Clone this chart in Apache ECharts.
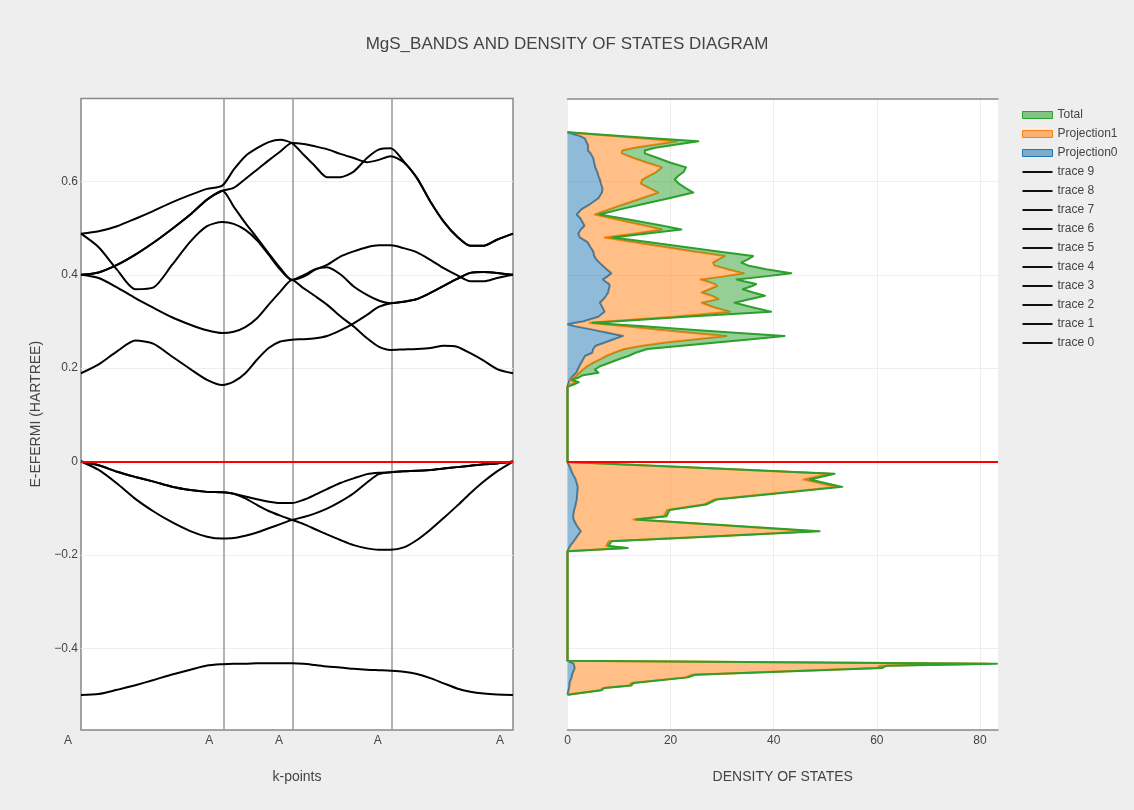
<!DOCTYPE html>
<html><head><meta charset="utf-8">
<script src="https://cdn.jsdelivr.net/npm/echarts@6/dist/echarts.min.js"></script>
<style>html,body{margin:0;padding:0;background:#eeeeee}#c{width:1134px;height:810px}</style>
</head><body><div id="c"></div>
<script>
// ---------- data ----------
const kPoints = [0, 0.0409, 0.0833, 0.1258, 0.1682, 0.2106, 0.2531, 0.2917, 0.3272, 0.3534, 0.3804, 0.4074, 0.4344, 0.4614, 0.4884, 0.5154, 0.5424, 0.5694, 0.6003, 0.6312, 0.662, 0.689, 0.7168, 0.7469, 0.7778, 0.8086, 0.8395, 0.8704, 0.9012, 0.9321, 0.963, 1];
const kTickValues = [0, 0.3272, 0.4884, 0.7168, 1];
const kTickLabels = ['A', 'A', 'A', 'A', 'A'];
const kLines = [0.3272, 0.4884, 0.7168];
const energyTicks = [-0.4, -0.2, 0, 0.2, 0.4, 0.6];
const energyGrid = [-0.4, -0.2, 0.2, 0.4, 0.6];
const fermiLevel = 0;

const band0 = [-0.5, -0.498, -0.489, -0.479, -0.468, -0.456, -0.446, -0.437, -0.434, -0.433, -0.433, -0.432, -0.432, -0.432, -0.432, -0.433, -0.436, -0.439, -0.441, -0.444, -0.446, -0.447, -0.448, -0.45, -0.455, -0.464, -0.475, -0.486, -0.493, -0.497, -0.499, -0.5];
const band1 = [0, -0.018, -0.047, -0.08, -0.107, -0.13, -0.149, -0.161, -0.165, -0.164, -0.159, -0.152, -0.143, -0.134, -0.125, -0.119, -0.111, -0.101, -0.086, -0.068, -0.045, -0.027, -0.023, -0.021, -0.02, -0.018, -0.015, -0.012, -0.009, -0.006, -0.004, 0];
const band2 = [0, -0.008, -0.022, -0.033, -0.043, -0.054, -0.061, -0.065, -0.066, -0.069, -0.079, -0.093, -0.106, -0.116, -0.125, -0.134, -0.145, -0.156, -0.168, -0.179, -0.186, -0.189, -0.189, -0.184, -0.168, -0.146, -0.121, -0.095, -0.068, -0.043, -0.021, 0];
const band3 = [0, -0.008, -0.022, -0.033, -0.043, -0.054, -0.061, -0.065, -0.066, -0.069, -0.075, -0.081, -0.086, -0.089, -0.089, -0.082, -0.071, -0.059, -0.046, -0.036, -0.027, -0.024, -0.023, -0.021, -0.02, -0.018, -0.015, -0.012, -0.009, -0.006, -0.004, 0];
const band4 = [0.189, 0.208, 0.236, 0.259, 0.252, 0.225, 0.198, 0.175, 0.164, 0.171, 0.189, 0.218, 0.243, 0.257, 0.261, 0.262, 0.264, 0.269, 0.281, 0.296, 0.314, 0.331, 0.339, 0.342, 0.348, 0.361, 0.376, 0.391, 0.404, 0.406, 0.404, 0.4];
const band5 = [0.4, 0.393, 0.373, 0.35, 0.329, 0.309, 0.293, 0.281, 0.275, 0.278, 0.288, 0.307, 0.336, 0.364, 0.389, 0.371, 0.354, 0.336, 0.311, 0.289, 0.264, 0.246, 0.239, 0.24, 0.241, 0.243, 0.248, 0.246, 0.232, 0.216, 0.198, 0.189];
const band6 = [0.488, 0.459, 0.411, 0.369, 0.373, 0.421, 0.471, 0.504, 0.513, 0.509, 0.496, 0.474, 0.443, 0.411, 0.389, 0.399, 0.412, 0.416, 0.401, 0.375, 0.357, 0.345, 0.339, 0.342, 0.348, 0.361, 0.376, 0.391, 0.404, 0.406, 0.404, 0.4];
const band7 = [0.4, 0.405, 0.421, 0.443, 0.469, 0.498, 0.529, 0.561, 0.58, 0.546, 0.511, 0.479, 0.446, 0.414, 0.389, 0.396, 0.411, 0.421, 0.439, 0.45, 0.459, 0.463, 0.463, 0.457, 0.448, 0.432, 0.414, 0.399, 0.386, 0.386, 0.393, 0.4];
const band8 = [0.4, 0.405, 0.421, 0.443, 0.469, 0.498, 0.529, 0.561, 0.58, 0.586, 0.605, 0.625, 0.645, 0.664, 0.682, 0.68, 0.675, 0.669, 0.659, 0.65, 0.641, 0.646, 0.654, 0.641, 0.607, 0.557, 0.514, 0.482, 0.462, 0.462, 0.475, 0.488];
const band9 = [0.488, 0.493, 0.504, 0.52, 0.537, 0.555, 0.571, 0.584, 0.591, 0.625, 0.654, 0.671, 0.684, 0.689, 0.682, 0.657, 0.632, 0.609, 0.609, 0.621, 0.65, 0.668, 0.671, 0.643, 0.607, 0.557, 0.514, 0.482, 0.462, 0.462, 0.475, 0.488];
const bands = [band0, band1, band2, band3, band4, band5, band6, band7, band8, band9];

const dosEnergy = [
  -0.4995, -0.490, -0.4851, -0.4795, -0.4744, -0.4623, -0.4566, -0.4423, -0.4373, -0.433, -0.4266,
  -0.192, -0.185, -0.181, -0.171, -0.160, -0.1494, -0.137, -0.1243, -0.1172, -0.104, -0.0922, -0.0815, -0.068, -0.0543, -0.0386, -0.0264, -0.015, -0.001,
  0.160, 0.165, 0.170, 0.175, 0.180, 0.185, 0.190, 0.197, 0.204, 0.212, 0.220, 0.226, 0.233, 0.241, 0.248, 0.255, 0.262, 0.269, 0.276, 0.283, 0.290, 0.294,
  0.297, 0.300, 0.310, 0.321, 0.330, 0.340, 0.348, 0.355, 0.362, 0.369, 0.376, 0.380, 0.386, 0.390, 0.396, 0.403, 0.412, 0.420, 0.426, 0.433, 0.440,
  0.450, 0.460, 0.470, 0.480, 0.488, 0.497, 0.505, 0.513, 0.521, 0.529, 0.540, 0.552, 0.564, 0.576, 0.585, 0.595, 0.604, 0.612, 0.620, 0.630, 0.640, 0.650, 0.660, 0.666, 0.672, 0.678, 0.686, 0.692, 0.698, 0.705
];
const dosTotal = [
  0, 6.6, 7.2, 12.4, 12.8, 23.4, 24.7, 61, 61.9, 83.3, 0,
  0, 11.7, 8.0, 8.5, 29.2, 48.9, 31.3, 13.3, 19.2, 19.8, 26.9, 28.9, 41.0, 53.3, 47.0, 51.8, 29.0, 0,
  0, 1.2, 2.2, 0.8, 2.2, 3.0, 6.0, 5.3, 6.3, 8.3, 10.2, 11.8, 13.2, 15.5, 22.2, 28.9, 35.7, 42.1, 32.5, 23.3, 14.1, 8.8,
  4.9, 9.1, 22.9, 39.5, 36.0, 32.4, 35.5, 38.3, 36.0, 34.0, 35.8, 36.6, 34.2, 32.8, 38.0, 43.4, 38.5, 35.0, 33.7, 35.0, 36.0,
  29.2, 22.4, 15.6, 8.8, 15.0, 22.1, 18.5, 14.5, 10.5, 6.2, 10.2, 14.9, 19.7, 24.4, 23.0, 21.6, 20.8, 21.5, 22.5, 23.0, 20.0, 17.5, 15.0, 15.0, 17.0, 20.5, 25.4, 17.2, 8.9, 0
];
const dosProj1 = [
  0, 6.3, 6.9, 12.0, 12.4, 22.9, 24.2, 60.0, 60.6, 81.5, 0,
  0, 11.2, 7.5, 8.0, 28.5, 47.5, 30.7, 12.8, 18.7, 19.3, 26.4, 28.4, 40.3, 52.0, 45.8, 50.8, 28.4, 0,
  0, 0.6, 1.6, 0.5, 1.3, 1.8, 2.3, 3.0, 3.8, 5.0, 6.5, 7.5, 9.0, 11.0, 14.5, 19.0, 25.0, 30.8, 23.8, 17.3, 10.8, 7.0,
  4.3, 7.5, 20.6, 31.5, 28.5, 26.0, 29.3, 28.0, 26.0, 27.5, 29.0, 28.6, 27.0, 25.8, 30.0, 34.2, 31.0, 28.5, 28.2, 29.3, 30.5,
  24.5, 18.6, 12.6, 7.2, 12.8, 18.3, 15.2, 11.8, 8.5, 5.3, 8.0, 11.2, 14.4, 17.6, 16.0, 14.2, 14.5, 15.8, 17.2, 18.3, 15.5, 12.8, 10.5, 10.6, 13.0, 16.5, 21.2, 14.9, 7.7, 0
];
const dosProj0 = [
  0, 0.2, 0.3, 0.4, 0.4, 0.8, 0.9, 1.4, 1.3, 1.2, 0,
  0, 0.3, 0.5, 1.2, 1.9, 2.6, 1.8, 1.2, 1.1, 1.3, 1.6, 1.8, 1.9, 2.0, 1.6, 1.0, 0.6, 0,
  0, 0.1, 0.3, 0.4, 0.8, 1.2, 1.7, 2.0, 2.3, 2.7, 3.1, 3.4, 4.8, 5.0, 5.5, 7.3, 9.0, 10.8, 7.8, 4.6, 1.3, 0.1,
  1.5, 3.0, 6.0, 7.2, 6.8, 6.3, 7.0, 7.5, 7.9, 8.0, 8.2, 8.1, 7.3, 6.9, 7.7, 8.5, 7.6, 6.8, 6.2, 5.6, 5.2,
  5.0, 4.4, 3.9, 2.4, 2.1, 2.6, 3.3, 2.9, 2.5, 1.8, 2.7, 4.5, 6.0, 6.7, 6.8, 6.5, 6.3, 6.0, 5.8, 5.4, 5.2, 5.0, 4.5, 4.0, 4.0, 4.0, 3.6, 3.4, 2.2, 0
];

// ---------- chart ----------
const FONT = 'Liberation Sans, Arial, sans-serif';
const E_MIN = -0.575, E_MAX = 0.7775;
const chart = echarts.init(document.getElementById('c'), null, {renderer: 'canvas'});

function fmtE(v) {
  if (Math.abs(v) < 1e-9) return '0';
  const s = String(Math.round(Math.abs(v) * 10) / 10);
  return v < 0 ? '\u2212' + s : s;
}
function kLabel(v) {
  let best = 0;
  kTickValues.forEach((t, i) => { if (Math.abs(t - v) < Math.abs(kTickValues[best] - v)) best = i; });
  return kTickLabels[best];
}

function areaSeries(name, upper, lower, fill, stroke) {
  return {
    type: 'custom', name, xAxisIndex: 1, yAxisIndex: 1, z: 3,
    data: dosEnergy.map((e, i) => [upper[i], e]),
    encode: {x: 0, y: 1},
    itemStyle: {color: fill},
    renderItem(params, api) {
      if (params.dataIndex !== 0) return null;
      const up = dosEnergy.map((e, i) => api.coord([upper[i], e]));
      const lo = dosEnergy.map((e, i) => api.coord([lower ? lower[i] : 0, e])).reverse();
      return {type: 'group', children: [
        {type: 'polygon', shape: {points: up.concat(lo)}, style: {fill: fill, stroke: null}},
        {type: 'polyline', shape: {points: up}, style: {fill: null, stroke: stroke, lineWidth: 2, lineJoin: 'round'}}
      ]};
    }
  };
}

function markLines(values, axisKey, color, width, z) {
  return {silent: true, symbol: ['none', 'none'], label: {show: false}, animation: false, z: z,
    lineStyle: {color: color, width: width, type: 'solid'},
    data: values.map(v => ({[axisKey]: v}))};
}

const series = [];
// horizontal grid lines for both panels
[0, 1].forEach(idx => {
  series.push({type: 'line', xAxisIndex: idx, yAxisIndex: idx, data: [], z: 1, silent: true,
    markLine: markLines(energyGrid, 'yAxis', '#eeeeee', 1, 1)});
});
// k-point separator lines
series.push({type: 'line', xAxisIndex: 0, yAxisIndex: 0, data: [], z: 2, silent: true,
  markLine: markLines(kLines, 'xAxis', '#999999', 1.5, 2)});
// bands
bands.forEach((b, i) => {
  series.push({
    type: 'line', name: 'trace ' + i, xAxisIndex: 0, yAxisIndex: 0, z: 4,
    data: kPoints.map((k, j) => [k, b[j]]),
    showSymbol: false, symbol: 'none', smooth: 0.25,
    lineStyle: {color: '#000', width: 2}, itemStyle: {color: '#000'}
  });
});
// DOS
series.push(areaSeries('Projection0', dosProj0, null, 'rgba(31,119,180,0.5)', '#1f77b4'));
series.push(areaSeries('Projection1', dosProj1, dosProj0, 'rgba(255,127,14,0.5)', '#ff7f0e'));
series.push(areaSeries('Total', dosTotal, dosProj1, 'rgba(44,160,44,0.5)', '#2ca02c'));
// Fermi level
[0, 1].forEach(idx => {
  series.push({type: 'line', xAxisIndex: idx, yAxisIndex: idx, data: [], z: 6, silent: true,
    markLine: markLines([fermiLevel], 'yAxis', '#ff0000', 2, 10)});
});

const legendData = [
  {name: 'Total', icon: 'rect', itemStyle: {color: 'rgba(44,160,44,0.55)', borderColor: '#2ca02c', borderWidth: 1}},
  {name: 'Projection1', icon: 'rect', itemStyle: {color: 'rgba(255,127,14,0.55)', borderColor: '#ff7f0e', borderWidth: 1}},
  {name: 'Projection0', icon: 'rect', itemStyle: {color: 'rgba(31,119,180,0.55)', borderColor: '#1f77b4', borderWidth: 1}}
];
for (let i = 9; i >= 0; i--) {
  legendData.push({name: 'trace ' + i, icon: 'path://M0,0H30V2H0Z', itemStyle: {color: '#111', borderWidth: 0}});
}

chart.setOption({
  backgroundColor: '#eeeeee',
  animation: false,
  textStyle: {fontFamily: FONT},
  title: {
    text: 'MgS_BANDS AND DENSITY OF STATES DIAGRAM', left: 'center', top: 31,
    textStyle: {fontFamily: FONT, fontSize: 17, fontWeight: 'normal', color: '#444'}
  },
  legend: {
    orient: 'vertical', left: 1017, top: 104, itemWidth: 30, itemHeight: 7, itemGap: 7,
    symbolKeepAspect: true,
    textStyle: {fontFamily: FONT, fontSize: 12, color: '#444'},
    selectedMode: false,
    data: legendData
  },
  grid: [
    {left: 81, top: 98.5, width: 432, height: 631.5, show: true, backgroundColor: '#fff', borderColor: '#888', borderWidth: 1.5},
    {left: 567.5, top: 98.5, width: 430.5, height: 631.5, show: true, backgroundColor: '#fff', borderWidth: 0}
  ],
  xAxis: [
    {type: 'value', gridIndex: 0, min: 0, max: 1,
      name: 'k-points', nameLocation: 'middle', nameGap: 40,
      nameTextStyle: {fontFamily: FONT, fontSize: 14, color: '#444'},
      axisLine: {show: false}, axisTick: {show: false}, splitLine: {show: false},
      axisLabel: {customValues: kTickValues, formatter: kLabel, color: '#444', fontSize: 12, fontFamily: FONT, margin: 5, padding: [0, 26, 0, 0]}},
    {type: 'value', gridIndex: 1, min: 0, max: 83.5, interval: 20,
      name: 'DENSITY OF STATES', nameLocation: 'middle', nameGap: 40,
      nameTextStyle: {fontFamily: FONT, fontSize: 14, color: '#444'},
      axisLine: {show: true, onZero: false, lineStyle: {color: '#888', width: 1.5}}, axisTick: {show: false},
      splitLine: {show: true, lineStyle: {color: '#eeeeee', width: 1}},
      axisLabel: {showMaxLabel: false, color: '#444', fontSize: 12, fontFamily: FONT, margin: 5}},
    {type: 'value', gridIndex: 1, position: 'top', min: 0, max: 83.5,
      axisLine: {show: true, onZero: false, lineStyle: {color: '#888', width: 1.5}}, axisTick: {show: false},
      splitLine: {show: false}, axisLabel: {show: false}}
  ],
  yAxis: [
    {type: 'value', gridIndex: 0, min: E_MIN, max: E_MAX,
      name: 'E-EFERMI (HARTREE)', nameLocation: 'middle', nameGap: 38,
      nameTextStyle: {fontFamily: FONT, fontSize: 14, color: '#444'},
      axisLine: {show: false}, axisTick: {show: false}, splitLine: {show: false},
      axisLabel: {customValues: energyTicks, formatter: fmtE, color: '#444', fontSize: 12, fontFamily: FONT, margin: 3}},
    {type: 'value', gridIndex: 1, min: E_MIN, max: E_MAX,
      axisLine: {show: false}, axisTick: {show: false}, splitLine: {show: false}, axisLabel: {show: false}}
  ],
  series: series
});
</script>
</body></html>
